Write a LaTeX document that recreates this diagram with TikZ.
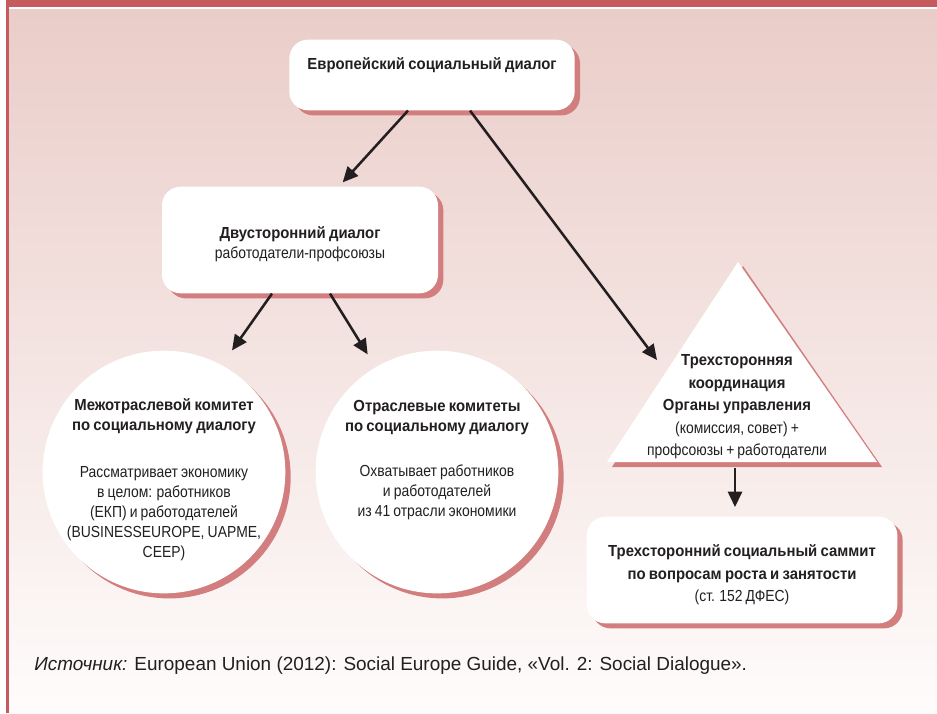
\documentclass[tikz,border=0pt]{standalone}
\usepackage{fontspec}
\setmainfont{Liberation Sans}[FakeStretch=0.87, WordSpace=0.8,
  BoldFeatures={FakeStretch=0.93}]
\newfontfamily\sourcefont{Liberation Sans}
\usepackage{xcolor}
\usepackage{tikz}
\usetikzlibrary{arrows.meta, shadows}
\definecolor{frameRed}{HTML}{C55A5F}
\definecolor{shadowRed}{HTML}{D37E7E}
\definecolor{bgTop}{HTML}{EACDC9}
\definecolor{bgBottom}{HTML}{FEFCFB}
\definecolor{inkDark}{HTML}{231F20}

\begin{document}
\begin{tikzpicture}[
  x=0.75pt, y=-0.75pt,
  font=\fontsize{12}{15}\selectfont, text=inkDark,
  card/.style={fill=white, rounded corners=14pt, inner sep=0pt,
               drop shadow={shadow xshift=4pt, shadow yshift=-3.8pt, fill=shadowRed, opacity=1}},
  committee/.style={circle, fill=white, minimum size=182pt, inner sep=0pt,
               drop shadow={shadow xshift=4pt, shadow yshift=-3.8pt, fill=shadowRed, opacity=1}},
  note/.style={align=center, inner sep=0pt},
  flow/.style={-{Triangle[length=11.5pt,width=10.5pt]}, line width=1.9pt, draw=inkDark}
]
\useasboundingbox (0,0) rectangle (937,713);

% page frame
\fill[white] (0,0) rectangle (937,713);
\shade[top color=bgTop, bottom color=bgBottom] (9,10) rectangle (937,713);
\fill[frameRed] (6,0) rectangle (937,7);
\fill[frameRed] (5.5,0) rectangle (8.5,713);

\node[card, minimum width=214pt, minimum height=53pt] (eu) at (432,75) {};
\node[note, anchor=base] (eutext) at (432,70) {\textbf{Европейский социальный диалог}};

\node[card, minimum width=207pt, minimum height=80pt] (bi) at (300,240) {};
\node[note] (bitext) at (300,244) {\textbf{Двусторонний диалог}\\работодатели-профсоюзы};

\node[committee] (inter) at (164,472) {};
\node[note] (intertext) at (164,480) {\textbf{Межотраслевой комитет}\\
  \textbf{по социальному диалогу}\\[20pt]
  Рассматривает экономику\\в целом: работников\\(ЕКП) и работодателей\\
  (BUSINESSEUROPE, UAPME,\\CEEP)};
\node[committee] (sect) at (437,472) {};
\node[note] (secttext) at (437,460) {\textbf{Отраслевые комитеты}\\
  \textbf{по социальному диалогу}\\[19pt]
  Охватывает работников\\и работодателей\\из 41 отрасли экономики};

% triangle
\fill[shadowRed] (743,266) -- (882,467) -- (612,467) -- cycle;
\fill[white] (738,262) -- (877,462) -- (607,462) -- cycle;
\coordinate (triW) at (657,360);
\coordinate (triS) at (735,462);
\node[note, font=\fontsize{12}{16.9}\selectfont] (tritext) at (737,407)
  {\textbf{Трехсторонняя}\\\textbf{координация}\\\textbf{Органы управления}\\
   (комиссия, совет) +\\профсоюзы + работодатели};

\node[card, minimum width=233pt, minimum height=80pt] (sum) at (742,570) {};
\node[note, font=\fontsize{12}{16.9}\selectfont] (sumtext) at (742,575)
  {\textbf{Трехсторонний социальный саммит}\\
  \textbf{по вопросам роста и занятости}\\(ст. 152 ДФЕС)};

\draw[flow] ([xshift=-18pt]eu.south) -- ([xshift=32pt,yshift=3pt]bi.north);
\draw[flow] ([xshift=28.5pt]eu.south) -- (triW);
\draw[flow] ([xshift=-21pt]bi.south) -- ([xshift=51pt]inter.north);
\draw[flow] ([xshift=22.5pt]bi.south) -- ([xshift=-52pt,yshift=-3pt]sect.north);
\draw[flow, shorten <=4.5pt, shorten >=7pt] (triS) -- (triS |- sum.north);

\node[anchor=base west, inner sep=0pt, font=\sourcefont\fontsize{14.2}{17}\selectfont]
  (source) at (34,670)
  {\textit{Источник:} European Union (2012): Social Europe Guide, «Vol. 2: Social Dialogue».};
\end{tikzpicture}
\end{document}
